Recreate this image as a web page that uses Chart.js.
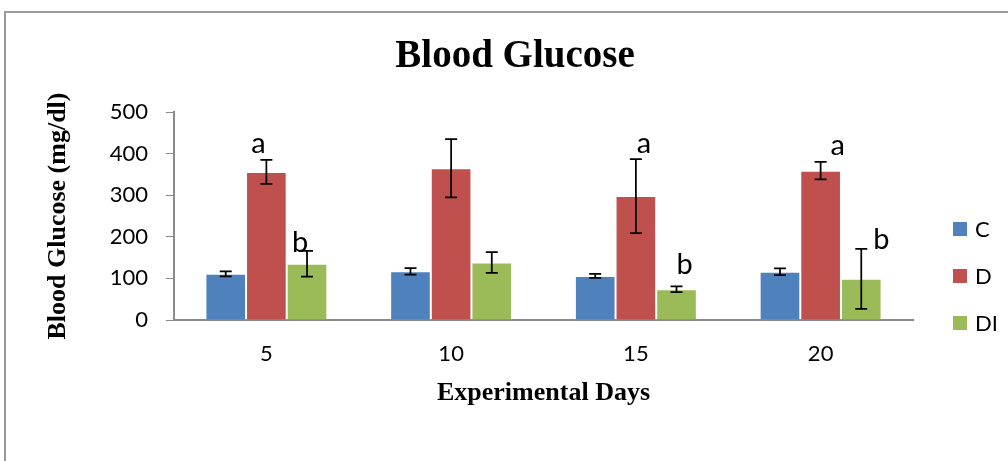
<!DOCTYPE html>
<html>
<head>
<meta charset="utf-8">
<script src="https://cdn.jsdelivr.net/npm/chart.js@4/dist/chart.umd.min.js"></script>
<style>
  html, body { margin: 0; padding: 0; background: #fff; overflow: hidden; }
  #wrap { position: relative; width: 1008px; height: 461px; }
  #frame { position: absolute; left: 4px; top: 11px; width: 1100px; height: 600px;
           border-left: 2px solid #9a9a9a; border-top: 2px solid #9a9a9a; box-sizing: border-box; }
  canvas { position: absolute; left: 0; top: 0; }
</style>
</head>
<body>
<div id="wrap">
  <div id="frame"></div>
  <canvas id="chart" width="1008" height="461"></canvas>
</div>
<script>
// Experimental days on the x axis
const days = ['5', '10', '15', '20'];

// Group means (mg/dl)
const valuesC  = [111, 117, 106, 116];
const valuesD  = [356, 365, 298, 359];
const valuesDI = [135, 138, 74, 99];

// Error bar half-lengths (mg/dl)
const errC  = [6, 8, 5, 8];
const errD  = [29, 70, 89, 21];
const errDI = [31, 25, 7, 72];

// Significance letters written above the bars
const lettersC  = ['', '', '', ''];
const lettersD  = ['a', '', 'a', 'a'];
const lettersDI = ['b', '', 'b', 'b'];

// Value axis range
const yMin = 0;
const yMax = 500;
const yStep = 100;

// Placement of the letters relative to the error bar top: [dx, dy] in px
const letterShift = {
  C:  [[0, 0], [0, 0], [0, 0], [0, 0]],
  D:  [[-8, -7], [0, 0], [8, -6], [17, -7]],
  DI: [[-7, 1], [0, 0], [8, -12], [20, 0]]
};

const colors = { C: '#4F81BD', D: '#C0504D', DI: '#9BBB59' };
const axisGray = '#8a8a8a';
const tickFont = 'Lato';
const serif = '"Liberation Serif", "Times New Roman", serif';

const datasets = [
  { label: 'C',  data: valuesC,  err: errC,  letters: lettersC,  shift: letterShift.C,  backgroundColor: colors.C },
  { label: 'D',  data: valuesD,  err: errD,  letters: lettersD,  shift: letterShift.D,  backgroundColor: colors.D },
  { label: 'DI', data: valuesDI, err: errDI, letters: lettersDI, shift: letterShift.DI, backgroundColor: colors.DI }
].map(ds => Object.assign(ds, {
  borderColor: 'rgba(255,255,255,0.55)',
  borderWidth: 1,
  categoryPercentage: 0.66,
  barPercentage: 1.0
}));

// Error bars and significance letters
const errorBarPlugin = {
  id: 'errorBars',
  afterDatasetsDraw(chart) {
    const ctx = chart.ctx;
    const y = chart.scales.y;
    ctx.save();
    chart.data.datasets.forEach((ds, d) => {
      const meta = chart.getDatasetMeta(d);
      meta.data.forEach((bar, i) => {
        const v = ds.data[i], e = ds.err[i];
        const top = y.getPixelForValue(v + e);
        const bot = y.getPixelForValue(v - e);
        const cap = 6;
        ctx.strokeStyle = '#000';
        ctx.lineWidth = 1.75;
        ctx.beginPath();
        ctx.moveTo(bar.x, top); ctx.lineTo(bar.x, bot);
        ctx.moveTo(bar.x - cap, top); ctx.lineTo(bar.x + cap, top);
        ctx.moveTo(bar.x - cap, bot); ctx.lineTo(bar.x + cap, bot);
        ctx.stroke();
        const letter = ds.letters[i];
        if (letter) {
          const [dx, dy] = ds.shift[i];
          ctx.fillStyle = '#000';
          ctx.font = '29px ' + tickFont;
          ctx.textAlign = 'center';
          ctx.textBaseline = 'alphabetic';
          ctx.fillText(letter, bar.x + dx, top + dy);
        }
      });
    });
    ctx.restore();
  }
};

// Legend drawn to the right of the plot area
const sideLegendPlugin = {
  id: 'sideLegend',
  afterDraw(chart) {
    const ctx = chart.ctx;
    const area = chart.chartArea;
    const box = 14, gap = 47;
    const x0 = area.right + 40;
    const y0 = area.top + 110;
    ctx.save();
    ctx.font = '22px ' + tickFont;
    ctx.textAlign = 'left';
    ctx.textBaseline = 'middle';
    chart.data.datasets.forEach((ds, i) => {
      const yy = y0 + i * gap;
      ctx.fillStyle = ds.backgroundColor;
      ctx.fillRect(x0, yy, box, box);
      ctx.fillStyle = '#000';
      ctx.fillText(ds.label, x0 + box + 8, yy + box / 2 + 1);
    });
    ctx.restore();
  }
};

new Chart(document.getElementById('chart'), {
  type: 'bar',
  data: { labels: days, datasets },
  plugins: [errorBarPlugin, sideLegendPlugin],
  options: {
    responsive: false,
    animation: false,
    devicePixelRatio: 1,
    layout: { padding: { top: 10, left: 22, right: 0, bottom: 10 } },
    plugins: {
      legend: { display: false },
      tooltip: { enabled: false },
      title: {
        display: true,
        text: 'Blood Glucose',
        color: '#000',
        font: { family: serif, size: 39, weight: 'bold', lineHeight: 1.2 },
        padding: { top: 24, bottom: 31.2 }
      }
    },
    scales: {
      x: {
        grid: { display: false, drawTicks: false },
        border: { display: true, color: axisGray, width: 2 },
        ticks: { color: '#000', font: { family: tickFont, size: 22 }, padding: 21 },
        title: {
          display: true,
          text: 'Experimental Days',
          color: '#000',
          font: { family: serif, size: 26, weight: 'bold', lineHeight: 1.2 },
          padding: { top: 10.7, bottom: 41.9 }
        },
        afterFit(s) { s.height = 131; }
      },
      y: {
        min: yMin,
        max: yMax,
        grid: { drawOnChartArea: false, drawTicks: true, tickLength: 8, color: axisGray, lineWidth: 1 },
        border: { display: true, color: axisGray, width: 2 },
        ticks: { stepSize: yStep, color: '#000', font: { family: tickFont, size: 22 }, padding: 18 },
        title: {
          display: true,
          text: 'Blood Glucose (mg/dl)',
          color: '#000',
          font: { family: serif, size: 26, weight: 'bold', lineHeight: 1.2 },
          padding: { top: 20.5, bottom: 0 }
        },
        afterFit(s) { s.width = 152; }
      },
      gutter: {
        position: 'right',
        display: true,
        grid: { display: false, drawTicks: false },
        border: { display: false },
        ticks: { display: false },
        afterFit(s) { s.width = 95; }
      }
    }
  }
});
</script>
</body>
</html>
